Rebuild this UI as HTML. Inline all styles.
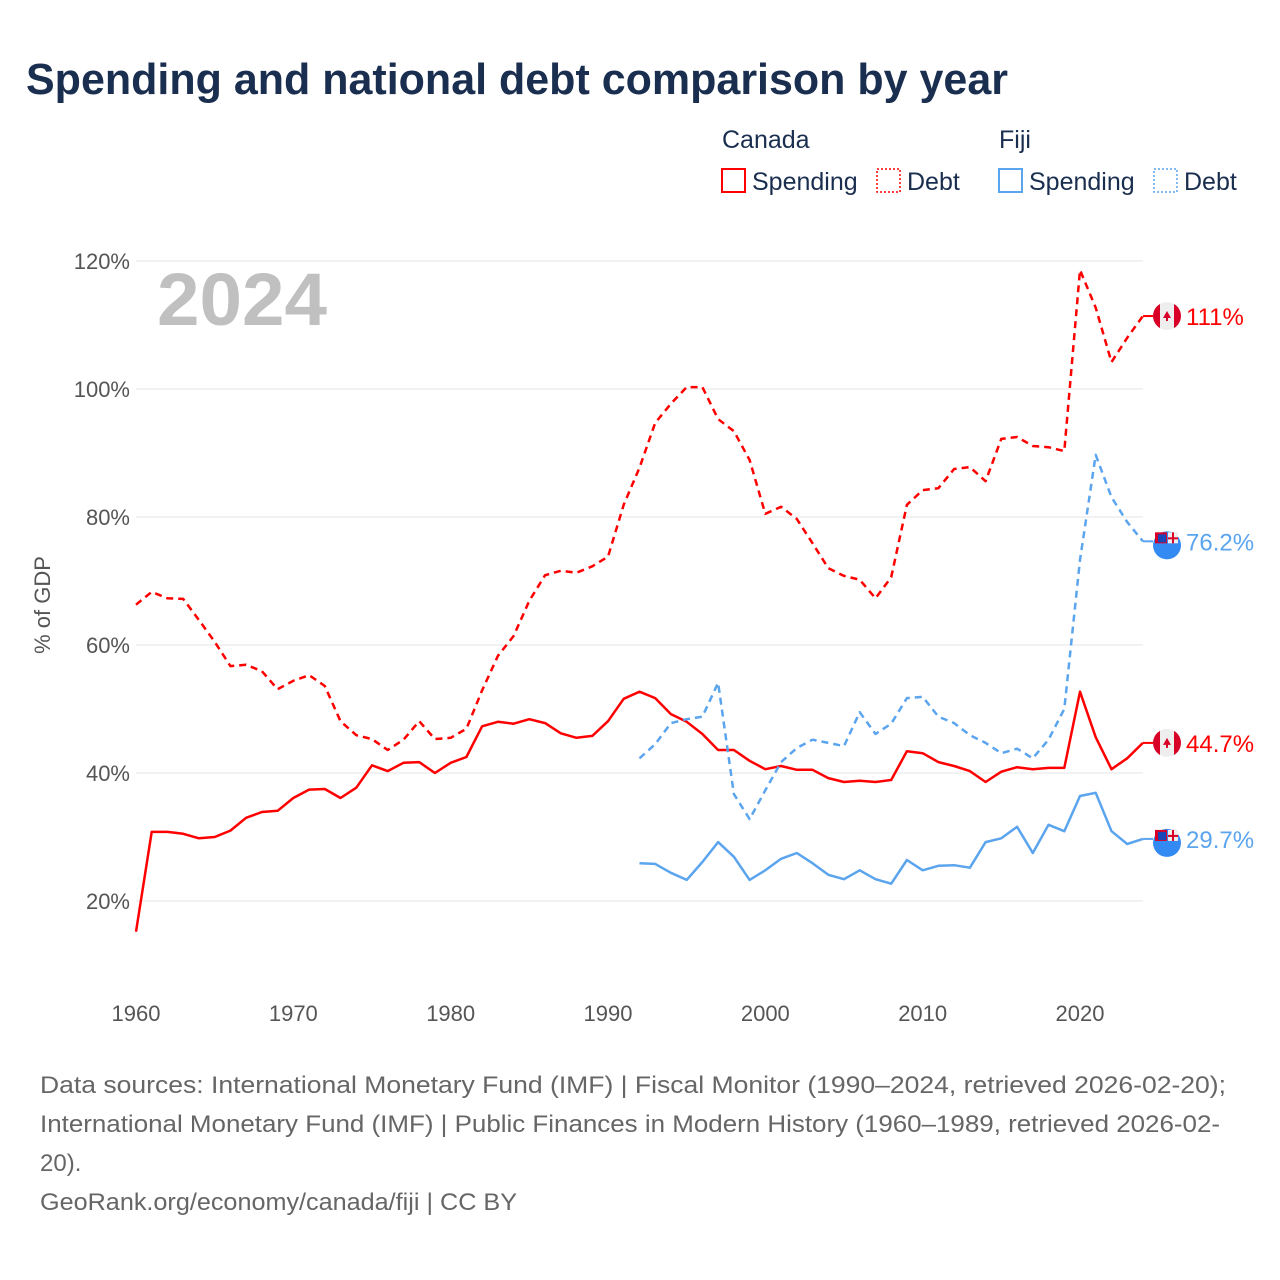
<!DOCTYPE html>
<html><head><meta charset="utf-8">
<style>
body{margin:0;background:#fff;font-family:"Liberation Sans",sans-serif;}
svg{display:block}
</style></head>
<body>
<svg width="1280" height="1280" viewBox="0 0 1280 1280" xmlns="http://www.w3.org/2000/svg">
<text x="26" y="94" font-size="44" font-weight="bold" fill="#1a2e4f" textLength="982" lengthAdjust="spacingAndGlyphs">Spending and national debt comparison by year</text>
<g font-size="25" fill="#1a2e4f">
<text x="722" y="148">Canada</text>
<text x="999" y="148">Fiji</text>
<g><rect x="722" y="169" width="23" height="23" fill="none" stroke="#ff0000" stroke-width="2"/><text x="752" y="190">Spending</text></g>
<g><rect x="877" y="169" width="23" height="23" fill="none" stroke="#ff0000" stroke-width="1.5" stroke-dasharray="2 2"/><text x="907" y="190">Debt</text></g>
<g><rect x="999" y="169" width="23" height="23" fill="none" stroke="#5ba4ee" stroke-width="2"/><text x="1029" y="190">Spending</text></g>
<g><rect x="1154" y="169" width="23" height="23" fill="none" stroke="#5ba4ee" stroke-width="1.5" stroke-dasharray="2 2"/><text x="1184" y="190">Debt</text></g>
</g>
<g id="grid"></g>
<g id="yt" font-size="22" fill="#555" text-anchor="end"></g>
<g id="xt" font-size="22" fill="#555" text-anchor="middle"></g>
<text transform="translate(50,605) rotate(-90)" font-size="22" fill="#555" text-anchor="middle">% of GDP</text>
<text x="157" y="325" font-size="74" font-weight="bold" fill="#c0c0c0" textLength="170" lengthAdjust="spacingAndGlyphs">2024</text>
<g id="series"></g>
<g id="ends"></g>
<g font-size="24" fill="#666">
<text x="40" y="1093" textLength="1186" lengthAdjust="spacingAndGlyphs">Data sources: International Monetary Fund (IMF) | Fiscal Monitor (1990–2024, retrieved 2026-02-20);</text>
<text x="40" y="1132" textLength="1180" lengthAdjust="spacingAndGlyphs">International Monetary Fund (IMF) | Public Finances in Modern History (1960–1989, retrieved 2026-02-</text>
<text x="40" y="1171">20).</text>
<text x="40" y="1210" textLength="477" lengthAdjust="spacingAndGlyphs">GeoRank.org/economy/canada/fiji | CC BY</text>
</g>
</svg>
<script>
const yTicks=[20,40,60,80,100,120];
const yTickLabels=["20%","40%","60%","80%","100%","120%"];
const xTicks=[1960,1970,1980,1990,2000,2010,2020];
const canadaStart=1960;
const canadaSpending=[15.2,30.8,30.8,30.5,29.8,30,31,33,33.9,34.1,36.1,37.4,37.5,36.1,37.7,41.2,40.3,41.6,41.7,40,41.6,42.5,47.3,48,47.7,48.4,47.8,46.2,45.5,45.8,48.1,51.6,52.7,51.7,49.2,48,46.1,43.6,43.6,41.9,40.6,41.1,40.5,40.5,39.2,38.6,38.8,38.6,38.9,43.4,43.1,41.7,41.1,40.3,38.6,40.2,40.9,40.6,40.8,40.8,52.7,45.6,40.6,42.3,44.7];
const canadaDebt=[66.3,68.3,67.3,67.2,63.9,60.5,56.7,56.9,55.9,53.1,54.4,55.3,53.6,48.1,45.9,45.3,43.6,45.2,48.1,45.3,45.5,46.9,52.9,58.3,61.4,66.9,70.9,71.6,71.3,72.3,73.8,81.9,87.7,94.7,97.7,100.3,100.3,95.3,93.4,88.9,80.5,81.6,79.7,75.9,72,70.8,70.2,67.3,70.6,81.9,84.2,84.5,87.5,87.8,85.6,92.2,92.5,91.1,90.9,90.3,118.6,112.7,104.2,108,111.4];
const fijiStart=1992;
const fijiSpending=[25.9,25.8,24.4,23.3,26.1,29.2,26.9,23.3,24.8,26.6,27.5,25.9,24.1,23.4,24.8,23.4,22.7,26.4,24.8,25.5,25.6,25.2,29.2,29.8,31.6,27.5,31.9,30.9,36.4,36.9,30.9,28.9,29.7];
const fijiDebt=[42.3,44.5,47.8,48.4,48.8,54.1,36.7,32.8,37.3,41.7,43.9,45.2,44.7,44.2,49.5,46.1,47.7,51.7,51.9,48.8,47.8,45.9,44.7,43.1,43.8,42.3,45.2,50,73.3,89.7,83.1,79.2,76.2];
const endLabels=["111%","44.7%","76.2%","29.7%"];

const NS="http://www.w3.org/2000/svg";
const X=yr=>136+(yr-1960)*(944/60);
const Y=v=>261+(120-v)*6.4;
function mk(t,a,p){const e=document.createElementNS(NS,t);for(const k in a)e.setAttribute(k,a[k]);p.appendChild(e);return e;}
const grid=document.getElementById('grid'),yt=document.getElementById('yt'),xt=document.getElementById('xt');
yTicks.forEach((v,i)=>{
 const l=mk('line',{x1:136,x2:1143,y1:Y(v),y2:Y(v),stroke:'#e6e6e6','stroke-width':1},grid);
 
 
 const t=mk('text',{x:130,y:Y(v)+8},yt);t.textContent=yTickLabels[i];
 
 
});
xTicks.forEach(v=>{
 const t=mk('text',{x:X(v),y:1021},xt);t.textContent=v;
 
 
});
const ser=document.getElementById('series');
function line(arr,start,color,dash,name){
 const d=arr.map((v,i)=>(i?'L':'M')+X(start+i).toFixed(1)+' '+Y(v).toFixed(1)).join(' ');
 const p=mk('path',{d:d,fill:'none',stroke:color,'stroke-width':2.5,'stroke-linejoin':'round'},ser);
 if(dash)p.setAttribute('stroke-dasharray','7 5');
 
 
}
line(canadaDebt,canadaStart,'#ff0000',true,'canada-debt-line');
line(canadaSpending,canadaStart,'#ff0000',false,'canada-spending-line');
line(fijiDebt,fijiStart,'#5ba4ee',true,'fiji-debt-line');
line(fijiSpending,fijiStart,'#5ba4ee',false,'fiji-spending-line');
const ends=document.getElementById('ends');
const endVals=[canadaDebt[canadaDebt.length-1],canadaSpending[canadaSpending.length-1],fijiDebt[fijiDebt.length-1],fijiSpending[fijiSpending.length-1]];
const endCols=['#ff0000','#ff0000','#5ba4ee','#5ba4ee'];
const endFlags=['ca','ca','fj','fj'];
endVals.forEach((v,i)=>{
 const y=Y(v),cx=1167;
 const g=mk('g',{},ends);
 
 
 mk('line',{x1:1143,x2:1153,y1:y,y2:y,stroke:endCols[i],'stroke-width':2},g);
 if(endFlags[i]=='ca'){
  mk('circle',{cx:cx,cy:y,r:14,fill:'#eeeeee'},g);
  mk('path',{d:`M${cx-7} ${y-12.1} A14 14 0 0 0 ${cx-7} ${y+12.1} Z`,fill:'#d80027'},g);
  mk('path',{d:`M${cx+7} ${y-12.1} A14 14 0 0 1 ${cx+7} ${y+12.1} Z`,fill:'#d80027'},g);
  mk('path',{d:`M${cx} ${y-5} L${cx+4} ${y+2} L${cx+1} ${y+2} L${cx+1} ${y+5} L${cx-1} ${y+5} L${cx-1} ${y+2} L${cx-4} ${y+2} Z`,fill:'#d80027'},g);
 }else{
  mk('circle',{cx:cx,cy:y+4,r:14,fill:'#338af3'},g);
  mk('rect',{x:cx-12,y:y-9,width:12,height:11,fill:'#d80027'},g);
  mk('rect',{x:cx-9,y:y-7,width:8,height:8,fill:'#1a47b8'},g);
  mk('rect',{x:cx+1,y:y-9,width:10,height:11,fill:'#eee'},g);
  mk('rect',{x:cx+5,y:y-9,width:2,height:11,fill:'#d80027'},g);
  mk('rect',{x:cx+1,y:y-4,width:10,height:2,fill:'#d80027'},g);
 }
 const t=mk('text',{x:1186,y:y+9,'font-size':24,fill:endCols[i]},g);
 t.textContent=endLabels[i];
});
</script>
</body></html>
